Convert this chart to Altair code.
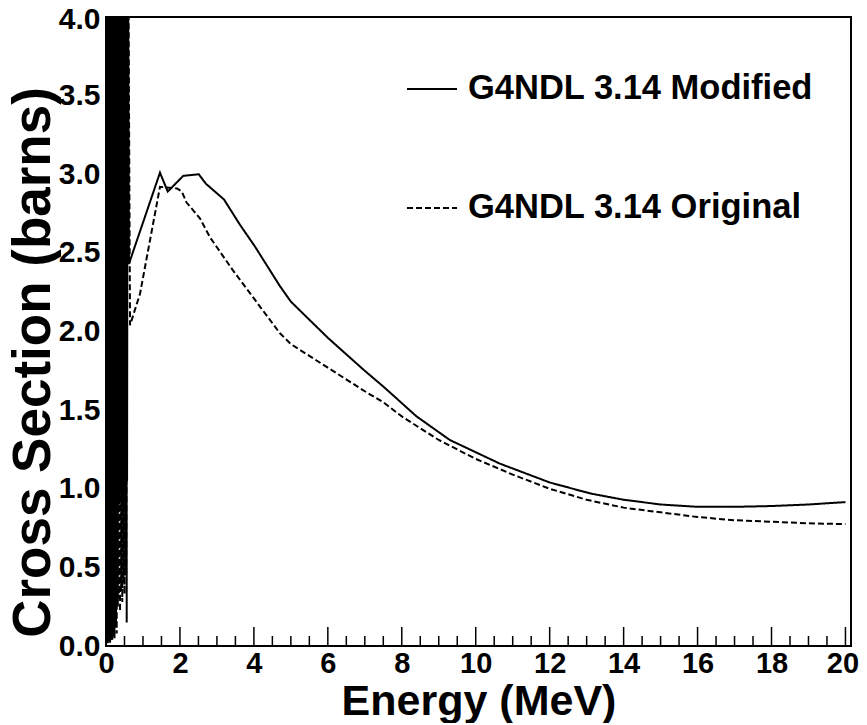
import altair as alt
import pandas as pd

FONT = "Liberation Sans"

# ---- data ----
# dense resonance region below ~0.6 MeV, "G4NDL 3.14 Modified"
mod_res_e = [0.000, 0.015, 0.030, 0.045, 0.060, 0.075, 0.090, 0.105, 0.120, 0.135,
             0.150, 0.165, 0.180, 0.195, 0.210, 0.225, 0.240, 0.255, 0.270, 0.285,
             0.300, 0.315, 0.330, 0.345, 0.360, 0.375, 0.390, 0.405, 0.420, 0.435,
             0.450, 0.465, 0.480, 0.495, 0.510, 0.525, 0.540, 0.555, 0.570, 0.590]
mod_res_xs = [0.05, 5.6, 0.02, 6.3, 0.08, 5.1, 0.03, 7.2, 0.10, 5.8,
              0.04, 6.6, 0.15, 5.3, 0.06, 6.9, 0.20, 5.5, 0.12, 6.0,
              0.85, 5.7, 0.95, 6.4, 0.90, 5.2, 1.00, 6.1, 0.92, 5.9,
              0.97, 6.2, 0.88, 5.4, 1.02, 6.5, 0.94, 5.6, 1.05, 5.0]
# smooth part, "G4NDL 3.14 Modified"
mod_e = [0.62, 1.46, 1.67, 2.09, 2.51, 2.70, 3.19, 3.62, 4.03, 4.70,
         5.00, 6.00, 7.00, 7.50, 8.40, 9.30, 10.65, 12.0, 13.1, 14.0,
         15.0, 16.0, 17.0, 18.0, 19.0, 20.0]
mod_xs = [2.43, 3.01, 2.89, 2.99, 3.00, 2.94, 2.84, 2.68, 2.54, 2.29,
          2.19, 1.96, 1.75, 1.65, 1.46, 1.31, 1.16, 1.04, 0.97, 0.93,
          0.90, 0.885, 0.885, 0.89, 0.90, 0.915]

# dense resonance region below ~0.6 MeV, "G4NDL 3.14 Original"
orig_res_e = [0.005, 0.020, 0.035, 0.050, 0.065, 0.080, 0.095, 0.110, 0.125, 0.140,
              0.155, 0.170, 0.185, 0.200, 0.215, 0.230, 0.245, 0.260, 0.275, 0.290,
              0.305, 0.320, 0.335, 0.350, 0.365, 0.380, 0.395, 0.410, 0.425, 0.440,
              0.455, 0.470, 0.485, 0.500, 0.515, 0.530, 0.545, 0.560, 0.575, 0.595]
orig_res_xs = [6.0, 0.03, 5.5, 0.01, 6.8, 0.06, 5.2, 0.02, 7.0, 0.09,
               5.9, 0.04, 6.2, 0.11, 5.4, 0.05, 6.7, 0.18, 5.6, 0.08,
               6.1, 0.25, 5.3, 0.30, 6.4, 0.22, 5.8, 0.35, 6.0, 0.28,
               5.5, 0.40, 6.3, 0.33, 5.7, 0.45, 6.6, 0.15, 5.9, 4.8]
# smooth part, "G4NDL 3.14 Original"
orig_e = [0.65, 0.92, 1.46, 1.92, 2.05, 2.18, 2.54, 2.81, 3.43, 3.97,
          4.70, 5.00, 6.00, 7.00, 7.50, 8.00, 9.00, 10.0, 11.0, 12.0,
          13.0, 14.0, 15.0, 16.0, 17.0, 18.0, 19.0, 20.0]
orig_xs = [2.04, 2.24, 2.92, 2.91, 2.89, 2.82, 2.72, 2.60, 2.39, 2.22,
           1.99, 1.92, 1.77, 1.62, 1.55, 1.46, 1.31, 1.19, 1.09, 1.00,
           0.93, 0.88, 0.85, 0.82, 0.80, 0.79, 0.78, 0.775]

series_names = ["G4NDL 3.14 Modified", "G4NDL 3.14 Original"]

x_major = [0, 2, 4, 6, 8, 10, 12, 14, 16, 18, 20]
x_minor = [0.5, 1.0, 1.5, 2.5, 3.0, 3.5, 4.5, 5.0, 5.5, 6.5, 7.0, 7.5, 8.5, 9.0, 9.5,
           10.5, 11.0, 11.5, 12.5, 13.0, 13.5, 14.5, 15.0, 15.5, 16.5, 17.0, 17.5,
           18.5, 19.0, 19.5]
y_ticks = [0.0, 0.5, 1.0, 1.5, 2.0, 2.5, 3.0, 3.5, 4.0]

# ---- build tables ----
rows = []
for e, v in zip(mod_res_e + mod_e, mod_res_xs + mod_xs):
    rows.append({"E": e, "XS": v, "series": series_names[0]})
for e, v in zip(orig_res_e + orig_e, orig_res_xs + orig_xs):
    rows.append({"E": e, "XS": v, "series": series_names[1]})
df = pd.DataFrame(rows)

W, H = 745, 629
xscale = alt.Scale(domain=[0, 20.15], nice=False, zero=False)
yscale = alt.Scale(domain=[0, 4], nice=False, zero=False)

xaxis = alt.Axis(values=x_major, title="Energy (MeV)", ticks=False, domain=False,
                 grid=False, labelFont=FONT, labelFontSize=29, labelFontWeight="bold",
                 labelColor="black", labelPadding=3, labelFlush=False,
                 labelOverlap=False,
                 labelOffset={"condition": {"test": "datum.value == 20", "value": -3},
                              "value": 0},
                 titleFont=FONT, titleFontSize=43,
                 titleFontWeight="bold", titleColor="black", titleX=W / 2,
                 titleY=68, titleAlign="center", titleBaseline="alphabetic")

yaxis = alt.Axis(values=y_ticks, format=".1f", title="Cross Section (barns)",
                 ticks=False, domain=False, grid=False, labelFont=FONT,
                 labelFontSize=30, labelFontWeight="bold", labelColor="black",
                 labelPadding=6, labelFlush=False, labelOverlap=False,
                 labelOffset={"condition": {"test": "datum.value == 4", "value": 2},
                              "value": 0},
                 titleFont=FONT, titleFontSize=53, titleFontWeight="bold",
                 titleColor="black", titleAngle=270, titleX=-57, titleY=345,
                 titleAlign="center", titleBaseline="alphabetic")

lines = alt.Chart(df).mark_line(clip=True, color="black", strokeWidth=2).encode(
    x=alt.X("E:Q", scale=xscale, axis=xaxis),
    y=alt.Y("XS:Q", scale=yscale, axis=yaxis),
    strokeDash=alt.StrokeDash(
        "series:N",
        scale=alt.Scale(domain=series_names, range=[[1, 0], [6, 3]]),
        legend=alt.Legend(title=None, orient="none", legendX=300, legendY=46,
                          symbolType="stroke", symbolSize=2500, symbolStrokeWidth=2,
                          symbolStrokeColor="black", labelFont=FONT, labelFontSize=34.5,
                          labelFontWeight="bold", labelColor="black", labelOffset=10,
                          rowPadding=76, labelLimit=0)),
    order=alt.Order("E:Q"),
)

major_df = pd.DataFrame({"E": x_major})
minor_df = pd.DataFrame({"E": x_minor})

major_ticks = alt.Chart(major_df).mark_rule(color="black", strokeWidth=1.5).encode(
    x=alt.X("E:Q"),
    y=alt.value(H), y2=alt.value(H - 19),
)
minor_ticks = alt.Chart(minor_df).mark_rule(color="black", strokeWidth=1.5).encode(
    x=alt.X("E:Q"),
    y=alt.value(H), y2=alt.value(H - 10),
)

chart = alt.layer(lines, major_ticks, minor_ticks).properties(
    width=W, height=H,
    autosize=alt.AutoSizeParams(type="none"),
    padding={"left": 98, "top": 9, "right": 8, "bottom": 77},
    background="white",
).configure_view(stroke="black", strokeWidth=2)

chart.save("out.html", embed_options={"renderer": "svg", "actions": False})
